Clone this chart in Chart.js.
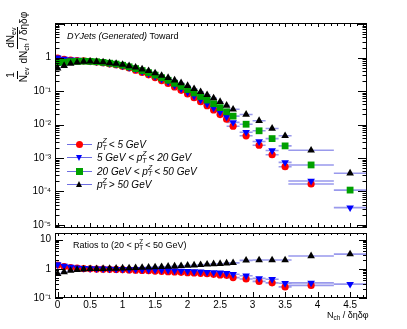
<!DOCTYPE html>
<html><head><meta charset="utf-8">
<script src="https://cdn.jsdelivr.net/npm/chart.js@4"></script>
<style>
html,body{margin:0;padding:0;background:#fff;width:407px;height:329px;overflow:hidden;font-family:"Liberation Sans",Arial,sans-serif;}
canvas{position:absolute;left:0;top:0;}
.t{position:absolute;white-space:nowrap;color:#000;line-height:1;}
.frac{display:inline-flex;flex-direction:column;align-items:center;vertical-align:middle;margin:0 1px;}
.frac .num{border-bottom:1px solid #000;padding:0 1px 1px 1px;}
.frac .den{padding:1px 1px 0 1px;}
sub{font-size:70%;vertical-align:-2px;line-height:0;}
.pz{display:inline-flex;flex-direction:column;vertical-align:middle;font-size:70%;line-height:0.95;margin-left:0;margin-right:2px;position:relative;top:-1px;}
.leg{position:absolute;left:67px;width:25px;height:0;border-top:1.5px solid rgba(60,60,215,0.75);}
.mk{position:absolute;}
</style></head><body>
<canvas id="c1" width="407" height="329"></canvas>
<canvas id="c2" width="407" height="329"></canvas>

<div class="t" style="left:67px;top:32px;font-size:9px;"><i>DYJets (Generated)</i> Toward</div>

<div class="t" id="ytitle" style="left:-28px;top:34px;width:90px;height:26px;transform:rotate(-90deg);transform-origin:50% 50%;font-size:10px;display:flex;align-items:center;justify-content:center;">
  <span class="frac"><span class="num">1</span><span class="den">N<sub>ev</sub></span></span>
  <span class="frac"><span class="num">dN<sub>ev</sub></span><span class="den">dN<sub>ch</sub> / δηδφ</span></span>
</div>

<!-- legend -->
<div class="leg" style="top:144px"></div>
<div class="leg" style="top:157px"></div>
<div class="leg" style="top:170.5px"></div>
<div class="leg" style="top:183.5px"></div>
<div class="mk" style="left:75.5px;top:141px;width:7px;height:7px;border-radius:50%;background:#ff0000;"></div>
<div class="mk" style="left:75.5px;top:154.5px;width:0;height:0;border-left:3.7px solid transparent;border-right:3.7px solid transparent;border-top:6px solid #0000ff;"></div>
<div class="mk" style="left:76px;top:168px;width:6.5px;height:6.5px;background:#00a000;"></div>
<div class="mk" style="left:75.5px;top:180.5px;width:0;height:0;border-left:3.7px solid transparent;border-right:3.7px solid transparent;border-bottom:6px solid #000;"></div>
<div class="t" style="left:97px;top:139px;font-size:10px;font-style:italic;">p<span class="pz"><span>Z</span><span>T</span></span>&lt; 5 GeV</div>
<div class="t" style="left:97px;top:152px;font-size:10px;font-style:italic;">5 GeV &lt; p<span class="pz"><span>Z</span><span>T</span></span>&lt; 20 GeV</div>
<div class="t" style="left:97px;top:165.5px;font-size:10px;font-style:italic;">20 GeV &lt; p<span class="pz"><span>Z</span><span>T</span></span>&lt; 50 GeV</div>
<div class="t" style="left:97px;top:178.5px;font-size:10px;font-style:italic;">p<span class="pz"><span>Z</span><span>T</span></span>&gt; 50 GeV</div>

<div class="t" style="left:73px;top:240px;font-size:9px;">Ratios to (20 &lt; p<span class="pz"><span>Z</span><span>T</span></span>&lt; 50 GeV)</div>
<div class="t" style="left:327px;top:311px;font-size:9px;">N<sub>ch</sub> / δηδφ</div>

<script>
// ---- data ----
const xCenters = [0,0.1,0.2,0.3,0.4,0.5,0.6,0.7,0.8,0.9,1.0,1.1,1.2,1.3,1.4,1.5,1.6,1.7,1.8,1.9,2.0,2.1,2.2,2.3,2.4,2.5,2.6,2.7,2.9,3.1,3.3,3.5,3.9,4.5];
const xHalfWidths = [0.05,0.05,0.05,0.05,0.05,0.05,0.05,0.05,0.05,0.05,0.05,0.05,0.05,0.05,0.05,0.05,0.05,0.05,0.05,0.05,0.05,0.05,0.05,0.05,0.05,0.05,0.05,0.1,0.1,0.1,0.1,0.1,0.35,0.25];

const redTop   = [0.96,0.88,0.84,0.81,0.80,0.77,0.735,0.70,0.65,0.61,0.555,0.49,0.42,0.36,0.305,0.252,0.205,0.168,0.133,0.105,0.082,0.063,0.048,0.0367,0.0273,0.0198,0.0144,0.0089,0.0046,0.0024,0.00125,0.00055,0.000167,null];
const blueTop  = [0.99,0.91,0.87,0.85,0.83,0.79,0.76,0.72,0.67,0.63,0.57,0.51,0.45,0.385,0.33,0.276,0.228,0.187,0.148,0.117,0.092,0.071,0.0545,0.0416,0.0315,0.0234,0.0170,0.0116,0.0059,0.0031,0.00167,0.00074,0.000205,0.000033];
const greenTop = [0.71,0.73,0.76,0.77,0.78,0.77,0.75,0.72,0.68,0.64,0.59,0.53,0.47,0.41,0.355,0.30,0.25,0.21,0.17,0.138,0.111,0.088,0.069,0.054,0.042,0.032,0.024,0.0178,0.0102,0.0065,0.0038,0.0023,0.00062,0.00011];
const blackTop = [0.48,0.57,0.66,0.72,0.76,0.77,0.75,0.73,0.69,0.66,0.62,0.56,0.51,0.45,0.40,0.345,0.29,0.25,0.21,0.174,0.144,0.117,0.0945,0.0767,0.0617,0.048,0.0372,0.0285,0.020,0.013,0.0076,0.0046,0.0017,0.00035];

const redRatio   = [1.35,1.20,1.10,1.05,1.02,1.00,0.98,0.97,0.96,0.95,0.94,0.92,0.90,0.88,0.86,0.84,0.82,0.80,0.78,0.76,0.74,0.72,0.70,0.68,0.65,0.62,0.60,0.50,0.45,0.37,0.33,0.24,0.27,null];
const blueRatio  = [1.40,1.25,1.15,1.10,1.06,1.03,1.01,1.00,0.99,0.98,0.97,0.96,0.95,0.94,0.93,0.92,0.91,0.89,0.87,0.85,0.83,0.81,0.79,0.77,0.75,0.73,0.71,0.65,0.58,0.47,0.44,0.32,0.33,0.30];
const blackRatio = [0.68,0.78,0.87,0.93,0.97,1.00,1.00,1.01,1.02,1.03,1.05,1.06,1.08,1.10,1.12,1.15,1.17,1.20,1.23,1.26,1.30,1.33,1.37,1.42,1.47,1.50,1.55,1.60,1.95,2.00,2.00,2.00,2.75,3.20];

const topYTicks = [1e-5,1e-4,1e-3,1e-2,1e-1,1];
const ratioYTicks = [0.1,1,10];
const xTickLabels = [0,0.5,1,1.5,2,2.5,3,3.5,4,4.5];

// ---- helpers ----
const supMap = {'-':'\u207B','0':'\u2070','1':'\u00B9','2':'\u00B2','3':'\u00B3','4':'\u2074','5':'\u2075'};
function logLabel(v){
  const e = Math.round(Math.log10(v));
  if (e === 0) return '1';
  if (e === 1) return '10';
  return '10' + String(e).split('').map(c => supMap[c]).join('');
}
function pts(arr){ return arr.map((v,i)=> v==null?null:{x:xCenters[i],y:v}).filter(Boolean); }
function errLines(arr){
  const out=[];
  arr.forEach((v,i)=>{ if(v==null) return;
    out.push({x:xCenters[i]-xHalfWidths[i],y:v},{x:xCenters[i]+xHalfWidths[i],y:v},{x:xCenters[i],y:null}); });
  return out;
}
const ERR_COL = 'rgba(70,70,220,0.55)';
function errDs(arr){ return {data:errLines(arr),borderColor:ERR_COL,borderWidth:1.6,pointRadius:0,spanGaps:false,order:10,tension:0}; }
function mkDs(arr,col,style,r,rot,ord){
  return {data:pts(arr),showLine:false,pointStyle:style,pointRadius:r,pointRotation:rot,
    pointBackgroundColor:col,pointBorderColor:col,pointBorderWidth:0,order:ord,pointHoverRadius:r};
}

const rootFrame = {
  id:'rootFrame',
  afterDatasetsDraw(chart, args, o){
    const {ctx, chartArea:a, scales:{x,y}} = chart;
    ctx.save();
    ctx.strokeStyle='#000'; ctx.lineWidth=1;
    ctx.strokeRect(Math.round(a.left)+0.5, Math.round(a.top)+0.5, Math.round(a.right-a.left)-1, Math.round(a.bottom-a.top)-1);
    ctx.beginPath();
    for(let e=-7;e<=2;e++){
      for(let k=1;k<=9;k++){
        const v=k*Math.pow(10,e);
        if(v<y.min||v>y.max) continue;
        const py=Math.round(y.getPixelForValue(v))+0.5;
        const len = k===1?o.yMaj:o.yMin;
        ctx.moveTo(a.left,py); ctx.lineTo(a.left+len,py);
        ctx.moveTo(a.right,py); ctx.lineTo(a.right-len,py);
      }
    }
    for(let i=0;i<=48;i++){
      const v=i/10;
      if(v<x.min||v>x.max) continue;
      const px=Math.round(x.getPixelForValue(v))+0.5;
      const maj = i%5===0;
      ctx.moveTo(px,a.bottom); ctx.lineTo(px,a.bottom-(maj?o.xMajB:o.xMinB));
      ctx.moveTo(px,a.top); ctx.lineTo(px,a.top+(maj?o.xMajT:o.xMinT));
    }
    ctx.stroke();
    ctx.restore();
  }
};

const XMIN=-0.04, XMAX=4.76;
const fontTick = {family:'"Liberation Sans", Arial, sans-serif', size:10};

// ---- top chart ----
new Chart(document.getElementById('c1'), {
  type:'line',
  data:{datasets:[
    errDs(redTop), errDs(blueTop), errDs(greenTop), errDs(blackTop),
    mkDs(redTop,'#ff0000','circle',3.6,0,4),
    mkDs(blueTop,'#0000ff','triangle',4.4,180,3),
    mkDs(greenTop,'#00a000','rect',4.8,0,2),
    mkDs(blackTop,'#000000','triangle',4.4,0,1)
  ]},
  options:{
    responsive:false, animation:false, devicePixelRatio:1,
    layout:{padding:{left:0,right:40,top:23,bottom:101}},
    plugins:{legend:{display:false},tooltip:{enabled:false},
      rootFrame:{yMaj:9,yMin:4.5,xMajB:5,xMinB:3,xMajT:4,xMinT:3}},
    scales:{
      x:{type:'linear',min:XMIN,max:XMAX,display:false},
      y:{type:'logarithmic',min:8.1e-6,max:10.8,
        afterBuildTicks:s=>{s.ticks=topYTicks.map(v=>({value:v}));},
        afterFit:s=>{s.width=55;},
        grid:{display:false,drawTicks:false},border:{display:false},
        ticks:{callback:v=>logLabel(v),padding:4,color:'#000',font:fontTick,autoSkip:false}}
    }
  },
  plugins:[rootFrame]
});

// ---- ratio chart ----
new Chart(document.getElementById('c2'), {
  type:'line',
  data:{datasets:[
    errDs(redRatio), errDs(blueRatio), errDs(blackRatio),
    mkDs(redRatio,'#ff0000','circle',3.6,0,4),
    mkDs(blueRatio,'#0000ff','triangle',4.4,180,3),
    mkDs(blackRatio,'#000000','triangle',4.4,0,1)
  ]},
  options:{
    responsive:false, animation:false, devicePixelRatio:1,
    layout:{padding:{left:0,right:40,top:233,bottom:0}},
    plugins:{legend:{display:false},tooltip:{enabled:false},
      rootFrame:{yMaj:8,yMin:4,xMajB:6,xMinB:3,xMajT:3,xMinT:2}},
    scales:{
      x:{type:'linear',min:XMIN,max:XMAX,
        afterBuildTicks:s=>{s.ticks=xTickLabels.map(v=>({value:v}));},
        afterFit:s=>{s.height=31;},
        grid:{display:false,drawTicks:false},border:{display:false},
        ticks:{callback:v=>String(v),padding:1,color:'#000',font:fontTick,autoSkip:false,maxRotation:0}},
      y:{type:'logarithmic',min:0.1,max:16.9,
        afterBuildTicks:s=>{s.ticks=ratioYTicks.map(v=>({value:v}));},
        afterFit:s=>{s.width=55;},
        grid:{display:false,drawTicks:false},border:{display:false},
        ticks:{callback:v=>logLabel(v),padding:4,color:'#000',font:fontTick,autoSkip:false}}
    }
  },
  plugins:[rootFrame]
});
</script>
</body></html>
